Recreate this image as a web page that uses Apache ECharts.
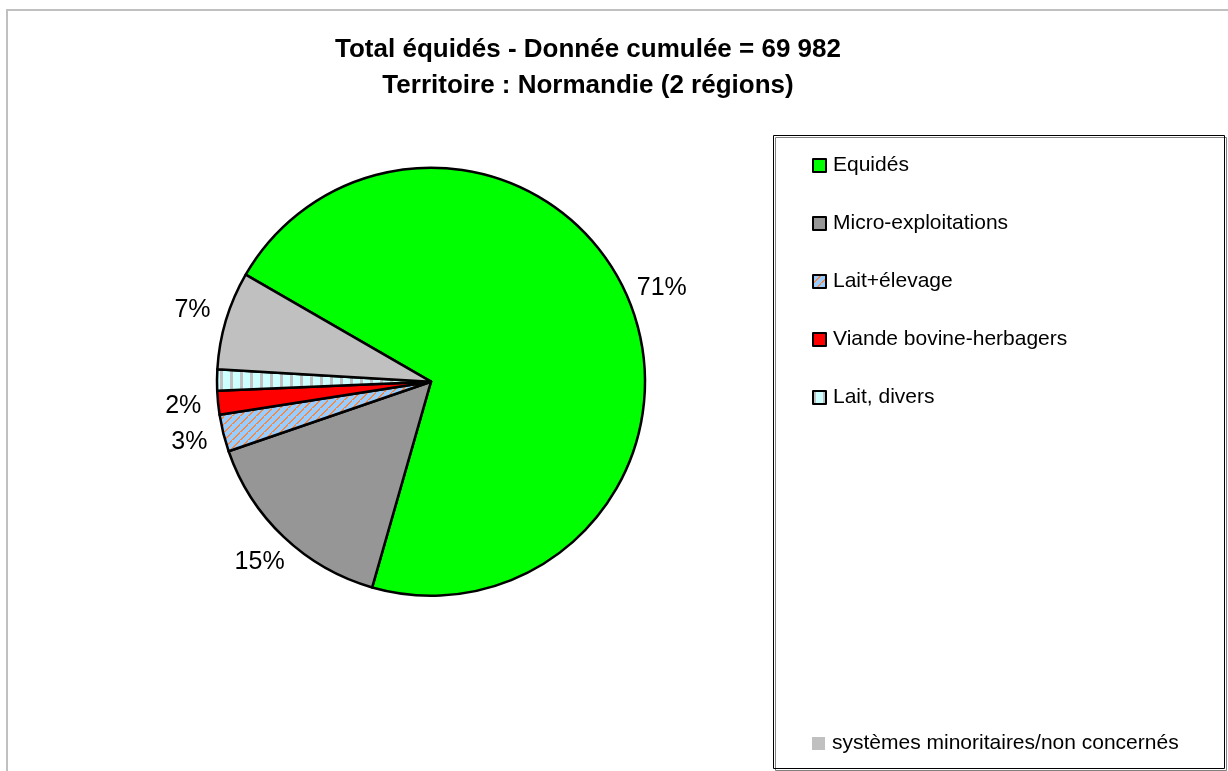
<!DOCTYPE html>
<html>
<head>
    <meta charset="UTF-8">
    <title>Total équidés - Normandie</title>
    <script type="text/javascript" src="https://cdn.jsdelivr.net/npm/echarts@6/dist/echarts.min.js"></script>
</head>

<script>
    var categories = ["Equidés", "Micro-exploitations", "Lait+élevage", "Viande bovine-herbagers", "Lait, divers", "systèmes minoritaires/non concernés"];
    var values = [49757, 10707, 1959, 1260, 1120, 5179];
    var showLabel = [true, true, true, true, false, true];
    var titleLines = ["Total équidés - Donnée cumulée = 69 982", "Territoire : Normandie (2 régions)"];

    var fontName = "Liberation Sans, Arial, sans-serif";

    // motifs de remplissage facon Excel
    function stripePattern() {
        var c = document.createElement("canvas");
        c.width = 8; c.height = 8;
        var ctx = c.getContext("2d");
        ctx.fillStyle = "#99ccff";
        ctx.fillRect(0, 0, 8, 8);
        ctx.fillStyle = "#f28a46";
        for (var i = 0; i < 8; i++) {
            ctx.fillRect(i, 7 - i, 2, 1);
        }
        return c;
    }
    function verticalPattern() {
        var c = document.createElement("canvas");
        c.width = 10; c.height = 10;
        var ctx = c.getContext("2d");
        ctx.fillStyle = "#ccffff";
        ctx.fillRect(0, 0, 10, 10);
        ctx.fillStyle = "#c0c0c0";
        ctx.fillRect(0, 0, 3, 10);
        return c;
    }

    function buildOption() {
        var colors = [
            "#00ff00",
            "#969696",
            {image: stripePattern(), repeat: "repeat"},
            "#ff0000",
            {image: verticalPattern(), repeat: "repeat"},
            "#c0c0c0"
        ];

        var pieData = [], labelData = [];
        categories.forEach(function (name, i) {
            pieData.push({name: name, value: values[i], itemStyle: {color: colors[i]}});
            labelData.push({name: name, value: values[i], label: {show: showLabel[i]}});
        });

        var legendText = {fontFamily: fontName, fontSize: 21, color: "#000", lineHeight: 21, padding: [0, 0, 0, 2]};

        return {
            animation: false,
            backgroundColor: "#fff",
            title: {
                text: titleLines.join("\n"),
                left: 583,
                top: 27,
                textAlign: "center",
                textStyle: {fontFamily: fontName, fontSize: 26, fontWeight: "bold", color: "#000", lineHeight: 36}
            },
            legend: [{
                orient: "vertical",
                left: 812,
                top: 155,
                padding: 0,
                itemWidth: 13,
                itemHeight: 13,
                itemGap: 37,
                icon: "rect",
                selectedMode: false,
                itemStyle: {borderColor: "#000", borderWidth: 2},
                data: categories.slice(0, 5),
                textStyle: legendText
            }, {
                orient: "vertical",
                left: 812,
                top: 733,
                padding: 0,
                itemWidth: 13,
                itemHeight: 13,
                icon: "rect",
                selectedMode: false,
                data: [{name: categories[5], itemStyle: {borderWidth: 0}}],
                textStyle: legendText
            }],
            graphic: [{
                type: "rect",
                z: -10,
                shape: {x: 7, y: 10, width: 1400, height: 900},
                style: {fill: null, stroke: "#c0c0c0", lineWidth: 2}
            }, {
                type: "rect",
                z: -10,
                shape: {x: 773.5, y: 135.5, width: 451, height: 633},
                style: {fill: null, stroke: "#000", lineWidth: 1, shadowColor: "#808080", shadowOffsetX: 2, shadowOffsetY: 2}
            }],
            series: [{
                type: "pie",
                silent: true,
                center: [431, 381.7],
                radius: 214,
                startAngle: 150,
                clockwise: true,
                avoidLabelOverlap: false,
                itemStyle: {borderColor: "#000", borderWidth: 2.5},
                label: {show: false},
                labelLine: {show: false},
                data: pieData
            }, {
                // anneau invisible qui porte les pourcentages
                type: "pie",
                silent: true,
                center: [431, 381.7],
                radius: [214, 278],
                startAngle: 150,
                clockwise: true,
                itemStyle: {color: "rgba(0,0,0,0)", borderWidth: 0},
                label: {
                    position: "inside",
                    formatter: "{d}%",
                    fontFamily: fontName,
                    fontSize: 25,
                    color: "#000",
                    textBorderWidth: 0
                },
                labelLine: {show: false},
                percentPrecision: 0,
                data: labelData
            }]
        };
    }

    window.onload = function () {
        var chart = echarts.init(document.getElementById("main"));
        chart.setOption(buildOption());
    };
</script>

<body style="margin: 0;background: #fff;">
<div id="main" style="width:1228px;height:771px;"></div>
</body>

</html>
